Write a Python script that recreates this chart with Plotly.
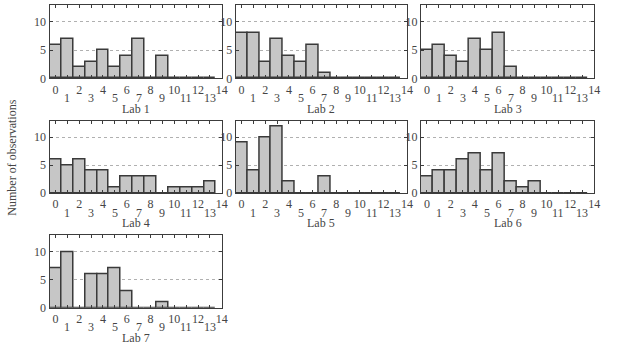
import plotly.graph_objects as go

# ---- data ----
bins = list(range(14))
lab_names = ["Lab 1", "Lab 2", "Lab 3", "Lab 4", "Lab 5", "Lab 6", "Lab 7"]
lab1 = [6, 7, 2, 3, 5, 2, 4, 7, 0, 4, 0, 0, 0, 0]
lab2 = [8, 8, 3, 7, 4, 3, 6, 1, 0, 0, 0, 0, 0, 0]
lab3 = [5, 6, 4, 3, 7, 5, 8, 2, 0, 0, 0, 0, 0, 0]
lab4 = [6, 5, 6, 4, 4, 1, 3, 3, 3, 0, 1, 1, 1, 2]
lab5 = [9, 4, 10, 12, 2, 0, 0, 3, 0, 0, 0, 0, 0, 0]
lab6 = [3, 4, 4, 6, 7, 4, 7, 2, 1, 2, 0, 0, 0, 0]
lab7 = [7, 10, 0, 6, 6, 7, 3, 0, 0, 1, 0, 0, 0, 0]
x_tick_vals = list(range(15))
even_tick_text = [str(v) if v % 2 == 0 else "" for v in x_tick_vals]
odd_tick_vals = [v for v in x_tick_vals if v % 2 == 1]
y_tick_vals = [0, 5, 10]
y_label = "Number of observations"

series = [lab1, lab2, lab3, lab4, lab5, lab6, lab7]

W, H = 623, 348
col_px = [(50, 224), (238, 411), (425, 600)]
row_px = [(5, 80), (123, 197), (240, 314)]

FONT = "Liberation Serif"
TXT = "#454545"
AX = "#3c3c3c"

fig = go.Figure()
layout = dict(
    width=W, height=H,
    margin=dict(l=0, r=0, t=0, b=0),
    paper_bgcolor="white", plot_bgcolor="white",
    showlegend=False, bargap=0,
    font=dict(family=FONT, size=12, color=TXT),
)
annotations = []

for i, (name, vals) in enumerate(zip(lab_names, series)):
    r, c = divmod(i, 3)
    n = i + 1
    xa = "x" if n == 1 else f"x{n}"
    ya = "y" if n == 1 else f"y{n}"
    fig.add_trace(go.Bar(
        x=bins, y=vals, width=1.0,
        marker=dict(color="#c6c6c6", line=dict(color="#3a3a3a", width=1.5)),
        xaxis=xa, yaxis=ya,
    ))
    x0, x1 = col_px[c]
    y0, y1 = row_px[r]
    xkey = "xaxis" if n == 1 else f"xaxis{n}"
    ykey = "yaxis" if n == 1 else f"yaxis{n}"
    layout[xkey] = dict(
        domain=[x0 / W, x1 / W], anchor=ya, range=[-0.5, 14],
        tickmode="array", tickvals=x_tick_vals, ticktext=even_tick_text,
        ticks="inside", ticklen=3, tickwidth=1, tickcolor=AX,
        showline=True, linecolor=AX, linewidth=1, mirror="ticks",
        showgrid=False, zeroline=False,
        tickfont=dict(family=FONT, size=12, color=TXT),
    )
    layout[ykey] = dict(
        domain=[1 - y1 / H, 1 - y0 / H], anchor=xa, range=[0, 13],
        tickmode="array", tickvals=y_tick_vals,
        ticks="inside", ticklen=3, tickwidth=1, tickcolor=AX,
        showline=True, linecolor=AX, linewidth=1, mirror="ticks",
        showgrid=True, gridcolor="#b0b0b0", griddash="dot", gridwidth=1,
        zeroline=False,
        tickfont=dict(family=FONT, size=12, color=TXT),
    )
    for v in odd_tick_vals:
        annotations.append(dict(
            x=v, xref=xa, y=1 - (y1 + 20) / H, yref="paper",
            text=str(v), showarrow=False, xanchor="center", yanchor="middle",
            font=dict(family=FONT, size=12, color=TXT),
        ))
    annotations.append(dict(
        x=(x0 + x1) / 2 / W, xref="paper", y=1 - (y1 + 31) / H, yref="paper",
        text=name, showarrow=False, xanchor="center", yanchor="middle",
        font=dict(family=FONT, size=12, color=TXT),
    ))

annotations.append(dict(
    x=12 / W, xref="paper", y=1 - 161 / H, yref="paper",
    text=y_label, textangle=-90, showarrow=False,
    xanchor="center", yanchor="middle",
    font=dict(family=FONT, size=12, color=TXT),
))
layout["annotations"] = annotations
fig.update_layout(**layout)
fig.write_html("out.html")
